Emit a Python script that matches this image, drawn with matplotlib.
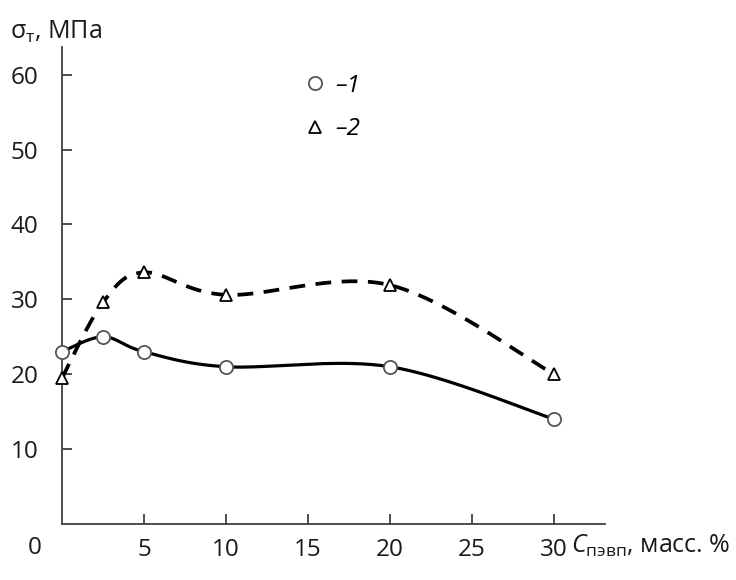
import numpy as np
import matplotlib
matplotlib.use('Agg')
import matplotlib.pyplot as plt
from matplotlib.lines import Line2D

# 字体
plt.rcParams['font.family'] = ['Open Sans', 'DejaVu Sans']
plt.rcParams['mathtext.fontset'] = 'custom'
plt.rcParams['mathtext.rm'] = 'Open Sans'
plt.rcParams['mathtext.it'] = 'Open Sans:italic'

# 数据
pe_content = [0, 2.5, 5, 10, 20, 30]
sigma_1 = [23, 25, 23, 21, 21, 14]
sigma_2 = [19.5, 29.6, 33.6, 30.6, 31.9, 20]
x_ticks = [5, 10, 15, 20, 25, 30]
y_ticks = [10, 20, 30, 40, 50, 60]
legend_labels = ['\u20131', '\u20132']


def smooth(ax, xs, ys, n=40):
    """
    Excel 风格的平滑曲线（在屏幕坐标中做 Catmull-Rom / Bezier）
    """
    pts = ax.transData.transform(np.column_stack([xs, ys]))
    out = []
    for i in range(len(pts) - 1):
        p0 = pts[i - 1] if i > 0 else pts[i]
        p1 = pts[i]
        p2 = pts[i + 1]
        p3 = pts[i + 2] if i + 2 < len(pts) else pts[i + 1]
        c1 = p1 + (p2 - p0) / 6
        c2 = p2 - (p3 - p1) / 6
        t = np.linspace(0, 1, n)[:, None]
        seg = ((1 - t) ** 3) * p1 + 3 * ((1 - t) ** 2) * t * c1 + 3 * (1 - t) * t ** 2 * c2 + t ** 3 * p2
        out.append(seg if i == 0 else seg[1:])
    out = np.vstack(out)
    return ax.transData.inverted().transform(out)


fig = plt.figure(figsize=(7.36, 5.8), dpi=100)
ax = fig.add_axes([62 / 736, 56 / 580, 543 / 736, 477 / 580])
ax.set_xlim(0, 33.1)
ax.set_ylim(0, 63.7)

axis_color = '#404040'
text_color = '#1a1a1a'
fs = 17.5
for s in ['top', 'right']:
    ax.spines[s].set_visible(False)
for s in ['left', 'bottom']:
    ax.spines[s].set_color(axis_color)
    ax.spines[s].set_linewidth(1.3)

ax.set_xticks(x_ticks)
ax.set_xticklabels([str(v) for v in x_ticks])
ax.set_yticks(y_ticks)
ax.set_yticklabels([str(v) for v in y_ticks])
ax.tick_params(axis='both', direction='in', length=7, width=1.3, color=axis_color,
               labelsize=fs, labelcolor=text_color)
ax.tick_params(axis='x', pad=10)
ax.tick_params(axis='y', pad=17)

# 曲线
c1 = smooth(ax, pe_content, sigma_1)
c2 = smooth(ax, pe_content, sigma_2)
ax.plot(c1[:, 0], c1[:, 1], color='black', lw=2.3, solid_capstyle='round', zorder=2, clip_on=False)
ax.plot(c2[:, 0], c2[:, 1], color='black', lw=2.7, dashes=(4.2, 2.8), zorder=2, clip_on=False)

ax.plot(pe_content, sigma_1, ls='none', marker='o', ms=9.5, mfc='white', mec='#555555', mew=1.3,
        zorder=3, clip_on=False)
ax.plot(pe_content, sigma_2, ls='none', marker='^', ms=9, mfc='white', mec='black', mew=1.3,
        zorder=3, clip_on=False)

# 图例
handles = [Line2D([], [], ls='none', marker='o', ms=9.5, mfc='white', mec='#555555', mew=1.3),
           Line2D([], [], ls='none', marker='^', ms=9, mfc='white', mec='black', mew=1.3)]
fig.legend(handles, legend_labels, loc='upper left', bbox_to_anchor=(279 / 736, 1 - 52 / 580),
           frameon=False, handletextpad=0.2, labelspacing=0.8, handlelength=1.2,
           prop={'size': fs, 'style': 'italic'})

# 标签
ax.annotate('0', xy=(0, 0), xycoords='data', xytext=(-27, -24), textcoords='offset pixels',
            ha='center', va='center', fontsize=fs, color=text_color)
fig.text(10 / 736, 1 - 32 / 580, r'σ$_{\mathregular{т}}$, МПа', ha='left', va='center',
         fontsize=fs + 0.5, color=text_color)
fig.text(571 / 736, 1 - 546 / 580, r'$\mathit{C}_{\mathregular{пэвп}}$, масс. %', ha='left', va='center',
         fontsize=fs + 0.5, color=text_color)

fig.savefig('out.png', dpi=100)
